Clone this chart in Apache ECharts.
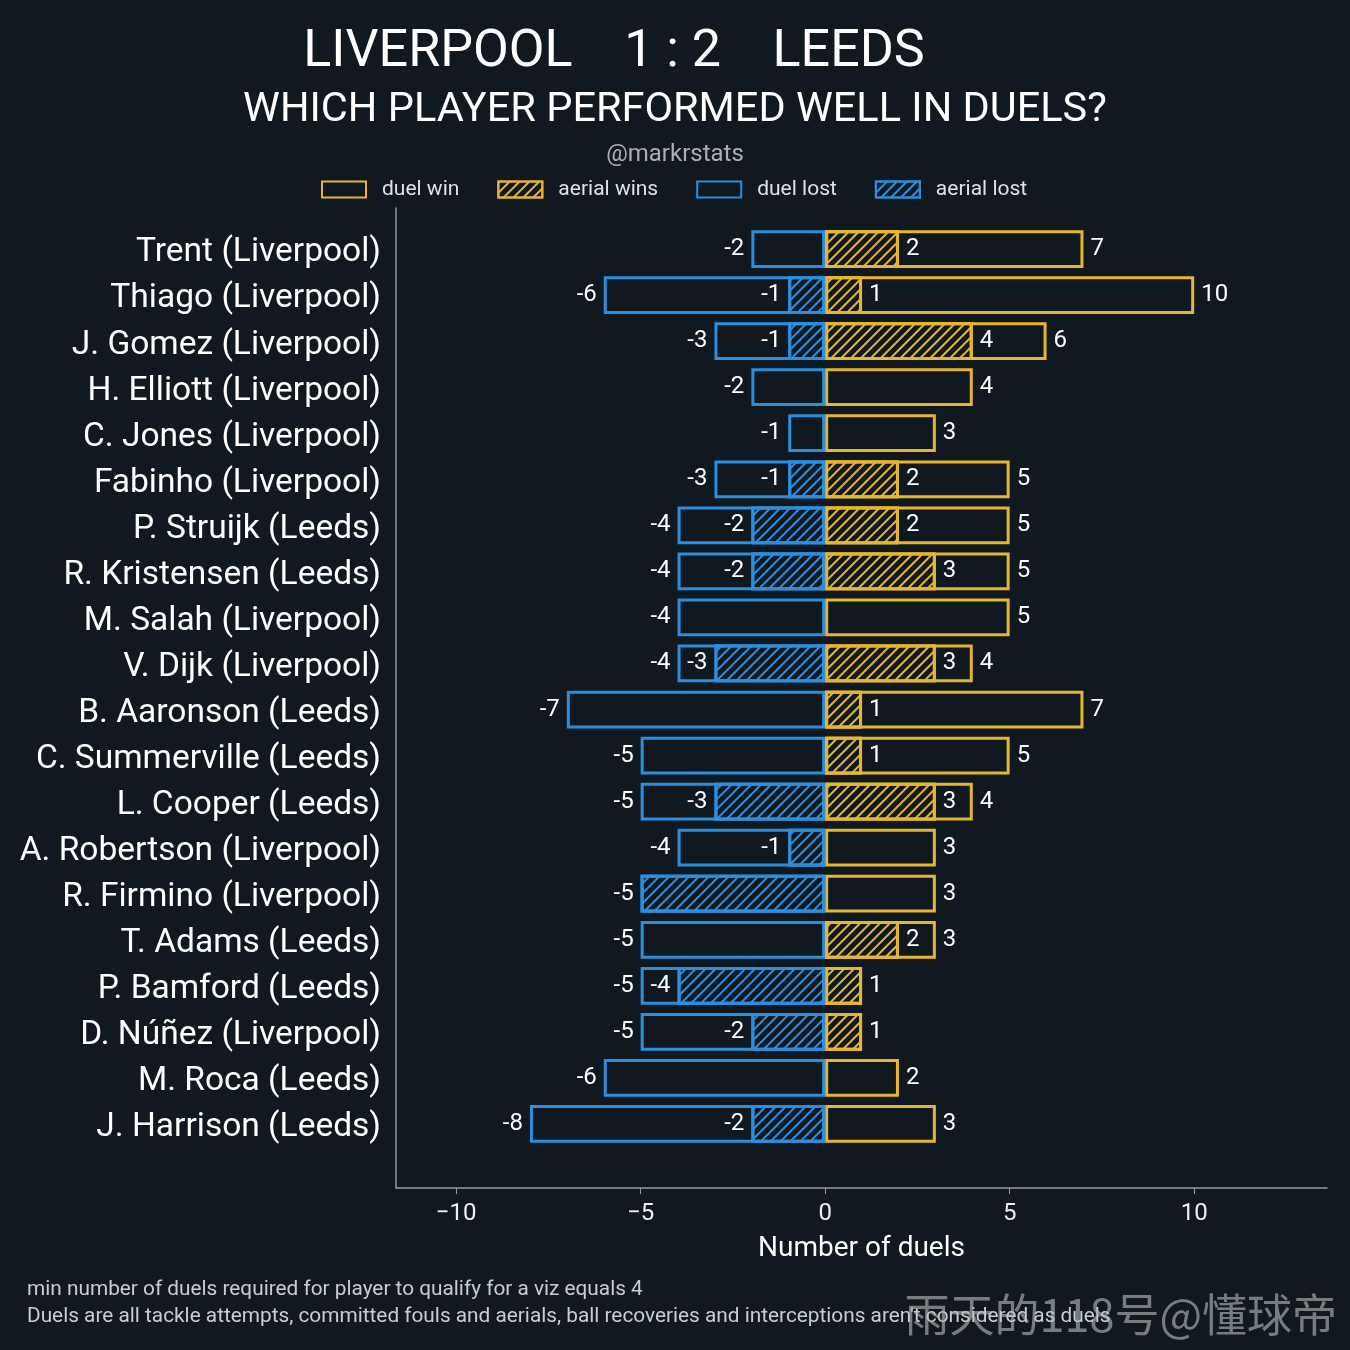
<!DOCTYPE html>
<html>
<head>
<meta charset="utf-8">
<script src="https://cdn.jsdelivr.net/npm/echarts@6/dist/echarts.min.js"></script>
<style>
  html, body { margin: 0; padding: 0; background: #111920; }
  #main { width: 1350px; height: 1350px; }
</style>
</head>
<body>
<div id="main"></div>
<script>
// data, top row first
var players = [
  'Trent (Liverpool)', 'Thiago (Liverpool)', 'J. Gomez (Liverpool)', 'H. Elliott (Liverpool)',
  'C. Jones (Liverpool)', 'Fabinho (Liverpool)', 'P. Struijk (Leeds)', 'R. Kristensen (Leeds)',
  'M. Salah (Liverpool)', 'V. Dijk (Liverpool)', 'B. Aaronson (Leeds)', 'C. Summerville (Leeds)',
  'L. Cooper (Leeds)', 'A. Robertson (Liverpool)', 'R. Firmino (Liverpool)', 'T. Adams (Leeds)',
  'P. Bamford (Leeds)', 'D. Núñez (Liverpool)', 'M. Roca (Leeds)', 'J. Harrison (Leeds)'
];
var duelWin    = [7, 10, 6, 4, 3, 5, 5, 5, 5, 4, 7, 5, 4, 3, 3, 3, 1, 1, 2, 3];
var aerialWin  = [2, 1, 4, 0, 0, 2, 2, 3, 0, 3, 1, 1, 3, 0, 0, 2, 1, 1, 0, 0];
var duelLost   = [-2, -6, -3, -2, -1, -3, -4, -4, -4, -4, -7, -5, -5, -4, -5, -5, -5, -5, -6, -8];
var aerialLost = [0, -1, -1, 0, 0, -1, -2, -2, 0, -3, 0, 0, -3, -1, -5, 0, -4, -2, 0, -2];
var xTicks = [-10, -5, 0, 5, 10];

var YELLOW = '#e6b62e';
var BLUE = '#2a8fde';
var BG = '#111920';
var AXIS = '#8e9ea3';
var FONT = 'Roboto, "Noto Sans", sans-serif';
var xMin = -11.63, xMax = 13.6;

function nz(arr) {
  return arr.map(function (v) { return v === 0 ? null : v; });
}
// aerial label is hidden when it equals the total (same spot)
function aerialData(aer, tot) {
  return aer.map(function (v, i) {
    if (v === 0) return null;
    return { value: v, label: { show: v !== tot[i] } };
  });
}
function hatch(c) {
  return {
    symbol: 'rect', symbolSize: 1, color: c,
    dashArrayX: [1, 0], dashArrayY: [2, 5], rotation: -Math.PI / 4
  };
}
var labelStyle = { color: '#ffffff', fontSize: 24, fontFamily: FONT };

var myChart = echarts.init(document.getElementById('main'));

var option = {
  backgroundColor: BG,
  animation: false,
  textStyle: { fontFamily: FONT },
  graphic: [
    { type: 'text', x: 614, y: 53, style: { text: 'LIVERPOOL    1 : 2    LEEDS', fill: '#ffffff', font: '52px ' + FONT, textAlign: 'center', textVerticalAlign: 'middle' } },
    { type: 'text', x: 675, y: 111, style: { text: 'WHICH PLAYER PERFORMED WELL IN DUELS?', fill: '#ffffff', font: '41.5px ' + FONT, textAlign: 'center', textVerticalAlign: 'middle' } },
    { type: 'text', x: 675, y: 155, style: { text: '@markrstats', fill: '#a9b0b4', font: '24px ' + FONT, textAlign: 'center', textVerticalAlign: 'middle' } },
    { type: 'text', x: 27, y: 1290, style: { text: 'min number of duels required for player to qualify for a viz equals 4', fill: '#c8cdd0', font: '20.8px ' + FONT, textVerticalAlign: 'middle' } },
    { type: 'text', x: 27, y: 1317, style: { text: "Duels are all tackle attempts, committed fouls and aerials, ball recoveries and interceptions aren't considered as duels", fill: '#c8cdd0', font: '20.8px ' + FONT, textVerticalAlign: 'middle' } },
    { type: 'text', x: 1337, y: 1315, z: 100, style: { text: '雨天的118号@懂球帝', fill: 'rgba(190,190,190,0.6)', font: '45px "Noto Sans CJK SC", ' + FONT, textAlign: 'right', textVerticalAlign: 'middle' } }
  ],
  legend: {
    top: 174,
    left: 316,
    icon: 'rect',
    itemWidth: 44,
    itemHeight: 16,
    itemGap: 38,
    textStyle: { color: '#dde2e5', fontSize: 21, fontFamily: FONT, padding: [0, 0, 0, 11] },
    data: ['duel win', 'aerial wins', 'duel lost', 'aerial lost']
  },
  grid: [
    { left: 396, right: 23, top: 208, bottom: 162 },
    { left: 396, right: 23, top: 226, bottom: 203 }
  ],
  xAxis: [
    {
      gridIndex: 0, type: 'value', min: xMin, max: xMax,
      splitLine: { show: false },
      axisLine: { show: true, onZero: false, lineStyle: { color: AXIS, width: 1.5 } },
      axisTick: { show: true, length: 6, lineStyle: { color: AXIS }, customValues: xTicks },
      axisLabel: {
        color: '#eeeeee', fontSize: 24, margin: 14, customValues: xTicks,
        formatter: function (v) { return v < 0 ? '\u2212' + Math.abs(v) : String(v); }
      },
      name: 'Number of duels', nameLocation: 'middle', nameGap: 47,
      nameTextStyle: { color: '#ffffff', fontSize: 28 }
    },
    { gridIndex: 1, type: 'value', min: xMin, max: xMax, show: false }
  ],
  yAxis: [
    {
      gridIndex: 0, type: 'value', min: 0, max: 1,
      splitLine: { show: false },
      axisLine: { show: true, onZero: false, lineStyle: { color: AXIS, width: 1.5 } },
      axisTick: { show: false }, axisLabel: { show: false }
    },
    {
      gridIndex: 1, type: 'category', data: players, inverse: true,
      axisLine: { show: false },
      axisTick: { show: true, length: 7, alignWithLabel: true, lineStyle: { color: AXIS } },
      axisLabel: {
        color: '#ffffff', fontSize: 33.5, margin: 15,
        formatter: function (v) { return '{n|' + v + '}'; },
        rich: { n: { color: '#ffffff', fontSize: 33.5, fontFamily: FONT, padding: [8, 0, 0, 0] } }
      }
    }
  ],
  series: [
    {
      name: 'duel win', type: 'bar', xAxisIndex: 1, yAxisIndex: 1,
      data: nz(duelWin), barWidth: '82%', barGap: '-100%',
      itemStyle: { color: BG, borderColor: YELLOW, borderWidth: 3 },
      label: Object.assign({ show: true, position: 'right', distance: 7 }, labelStyle)
    },
    {
      name: 'duel lost', type: 'bar', xAxisIndex: 1, yAxisIndex: 1,
      data: nz(duelLost), barWidth: '82%', barGap: '-100%',
      itemStyle: { color: BG, borderColor: BLUE, borderWidth: 3 },
      label: Object.assign({ show: true, position: 'left', distance: 7 }, labelStyle)
    },
    {
      name: 'aerial wins', type: 'bar', xAxisIndex: 1, yAxisIndex: 1,
      data: aerialData(aerialWin, duelWin), barWidth: '82%', barGap: '-100%',
      itemStyle: { color: BG, borderColor: YELLOW, borderWidth: 3, decal: hatch(YELLOW) },
      label: Object.assign({ show: true, position: 'right', distance: 7 }, labelStyle)
    },
    {
      name: 'aerial lost', type: 'bar', xAxisIndex: 1, yAxisIndex: 1,
      data: aerialData(aerialLost, duelLost), barWidth: '82%', barGap: '-100%',
      itemStyle: { color: BG, borderColor: BLUE, borderWidth: 3, decal: hatch(BLUE) },
      label: Object.assign({ show: true, position: 'left', distance: 7 }, labelStyle)
    }
  ]
};

myChart.setOption(option);
</script>
</body>
</html>
